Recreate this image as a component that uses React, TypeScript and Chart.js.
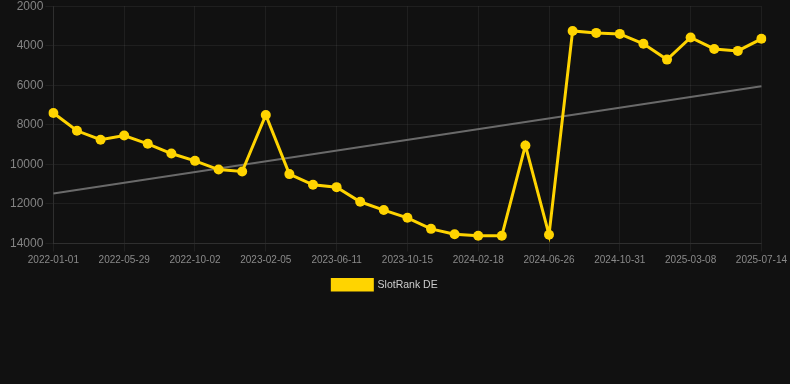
import React, { useEffect, useRef } from "react";
import { Chart, registerables } from "chart.js";

Chart.register(...registerables);

const dates = [
  "2022-01-01", "2022-02-19", "2022-04-09", "2022-05-29", "2022-07-10", "2022-08-21",
  "2022-10-02", "2022-11-13", "2022-12-25", "2023-02-05", "2023-03-19", "2023-04-30",
  "2023-06-11", "2023-07-23", "2023-09-03", "2023-10-15", "2023-11-26", "2024-01-07",
  "2024-02-18", "2024-03-31", "2024-05-12", "2024-06-26", "2024-08-07", "2024-09-19",
  "2024-10-31", "2024-12-12", "2025-01-24", "2025-03-08", "2025-04-19", "2025-06-01",
  "2025-07-14",
];

const slotRankDE = [
  7400, 8300, 8750, 8540, 8960, 9450, 9820, 10260, 10360, 7500, 10490, 11030,
  11150, 11890, 12310, 12700, 13260, 13530, 13610, 13610, 9040, 13560, 3250, 3350,
  3400, 3900, 4700, 3580, 4160, 4260, 3650,
];

const trendStart = 11470;
const trendEnd = 6045;
const trend = dates.map((_, i) => (i === 0 ? trendStart : i === dates.length - 1 ? trendEnd : null));

const yMin = 2000;
const yMax = 14000;

const FONT = "'Liberation Sans', Arial, Helvetica, sans-serif";

export default function App() {
  const ref = useRef<HTMLCanvasElement | null>(null);

  useEffect(() => {
    document.body.style.margin = "0";
    document.body.style.background = "#111111";
    if (!ref.current) return;
    const chart = new Chart(ref.current, {
      type: "line",
      data: {
        labels: dates,
        datasets: [
          {
            label: "SlotRank DE",
            data: slotRankDE,
            borderColor: "#FFD400",
            backgroundColor: "#FFD400",
            borderWidth: 3,
            pointRadius: 5,
            pointHoverRadius: 5,
            pointBorderWidth: 0,
            pointBackgroundColor: "#FFD400",
            pointBorderColor: "#FFD400",
            tension: 0,
          },
          {
            label: "Trend",
            data: trend,
            borderColor: "#6a6a6a",
            backgroundColor: "#6a6a6a",
            borderWidth: 2,
            pointRadius: 0,
            spanGaps: true,
            tension: 0,
          },
        ],
      },
      options: {
        animation: false,
        responsive: true,
        maintainAspectRatio: false,
        layout: { padding: { left: 0, right: 28, top: 0, bottom: 0 } },
        plugins: {
          legend: {
            position: "bottom",
            labels: {
              color: "#cccccc",
              font: { size: 10.5, family: FONT },
              boxWidth: 40,
              filter: (item) => item.text === "SlotRank DE",
            },
          },
          tooltip: { enabled: false },
        },
        scales: {
          x: {
            grid: { color: "rgba(255,255,255,0.06)" },
            border: { color: "rgba(255,255,255,0.08)" },
            ticks: {
              color: "#8a8a8a",
              font: { size: 10, family: FONT },
              autoSkip: true,
              maxTicksLimit: 11,
              maxRotation: 0,
              minRotation: 0,
            },
          },
          y: {
            reverse: true,
            min: yMin,
            max: yMax,
            grid: { color: "rgba(255,255,255,0.06)" },
            border: { color: "rgba(255,255,255,0.08)" },
            ticks: {
              stepSize: 2000,
              padding: 2,
              color: "#848484",
              font: { size: 12, family: FONT },
              callback: (v) => String(v),
            },
          },
        },
      },
    });
    return () => chart.destroy();
  }, []);

  return (
    <div style={{ width: 790, height: 384, background: "#111111", position: "relative", overflow: "hidden" }}>
      <div style={{ position: "absolute", left: 8, top: -3, width: 782, height: 303 }}>
        <canvas ref={ref} />
      </div>
    </div>
  );
}
